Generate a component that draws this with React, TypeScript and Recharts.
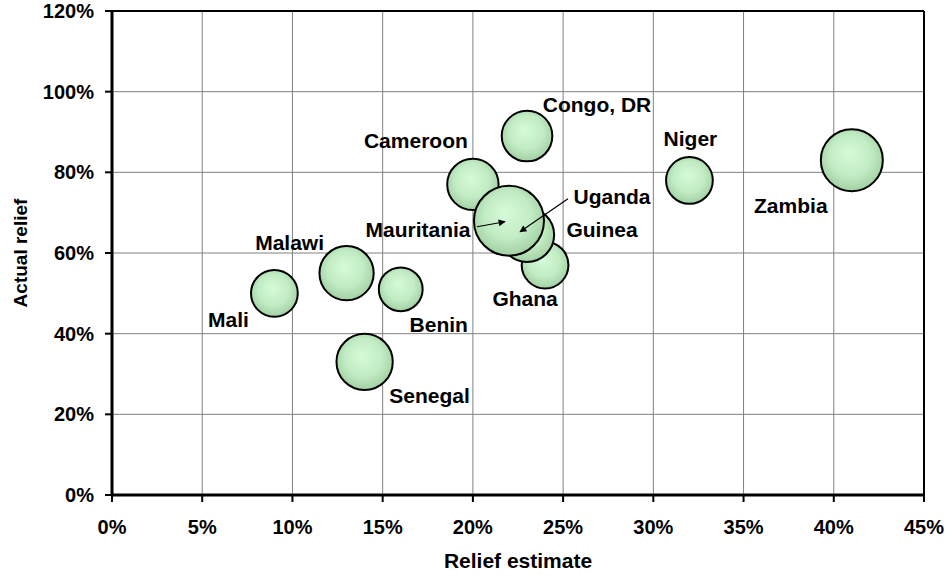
import React from 'react';
import { ScatterChart, Scatter, XAxis, YAxis, ZAxis, CartesianGrid, ReferenceLine, Label } from 'recharts';

// Data (values in percent)
const countries = ['Mali', 'Malawi', 'Benin', 'Senegal', 'Cameroon', 'Congo, DR', 'Ghana', 'Guinea', 'Uganda', 'Mauritania', 'Niger', 'Zambia'];
const reliefEstimate = [9, 13, 16, 14, 20, 23, 24, 23, 22.5, 22, 32, 41];
const actualRelief = [50, 55, 51, 33, 77, 89, 57, 64.5, 65, 68, 78, 83];
const bubbleSize = [58, 78, 51, 84, 70, 68, 58, 78, 32, 130, 58, 102];

const xTicks = [0, 5, 10, 15, 20, 25, 30, 35, 40, 45];
const yTicks = [0, 20, 40, 60, 80, 100, 120];

const data = countries.map((name, i) => ({
  name,
  x: reliefEstimate[i],
  y: actualRelief[i],
  z: bubbleSize[i],
}));

// Label placement (pixel offsets from bubble centre)
const labelLayout: Record<string, { dx: number; dy: number; arrow?: [number, number, number, number] }> = {
  'Mali': { dx: -46, dy: 26 },
  'Malawi': { dx: -57, dy: -31 },
  'Benin': { dx: 38, dy: 35 },
  'Senegal': { dx: 65, dy: 34 },
  'Cameroon': { dx: -57, dy: -44 },
  'Congo, DR': { dx: 70, dy: -32 },
  'Ghana': { dx: -20, dy: 33 },
  'Guinea': { dx: 75, dy: -5 },
  'Uganda': { dx: 94, dy: -36, arrow: [50, -34, 2, -1] },
  'Mauritania': { dx: -91, dy: 9, arrow: [-32, 6, -4, 1] },
  'Niger': { dx: 1, dy: -42 },
  'Zambia': { dx: -61, dy: 45 },
};

const FONT = '"Liberation Sans", Arial, Helvetica, sans-serif';

const Bubble = (props: any) => {
  const { cx, cy, width, size } = props;
  const r = width ? width / 2 : Math.sqrt((size || 0) / Math.PI);
  return <circle cx={cx} cy={cy} r={r} fill="url(#bubbleGrad)" stroke="#000" strokeWidth={2} />;
};

const BubbleLabel = (props: any) => {
  const { cx, cy, payload } = props;
  const name = payload?.name;
  const l = labelLayout[name] || { dx: 0, dy: 0 };
  return (
    <g>
      {l.arrow && (
        <line
          x1={cx + l.arrow[0]}
          y1={cy + l.arrow[1]}
          x2={cx + l.arrow[2]}
          y2={cy + l.arrow[3]}
          stroke="#000"
          strokeWidth={1.2}
          markerEnd="url(#arrowHead)"
        />
      )}
      <text
        x={cx + l.dx}
        y={cy + l.dy}
        dy="0.36em"
        textAnchor="middle"
        fontFamily={FONT}
        fontWeight="bold"
        fontSize={21}
        fill="#000"
      >
        {name}
      </text>
    </g>
  );
};

const tickStyle = { fontFamily: FONT, fontWeight: 'bold', fontSize: 20, fill: '#000' } as any;

export default function App() {
  return (
    <div style={{ position: 'absolute', left: 0, top: 0, width: 948, height: 576, background: '#fff' }}>
      <ScatterChart width={948} height={576} margin={{ top: 11, right: 24, left: 0, bottom: 0 }}>
        <defs>
          <radialGradient id="bubbleGrad" cx="50%" cy="45%" r="55%" fx="45%" fy="38%">
            <stop offset="0%" stopColor="#d4fbd8" />
            <stop offset="60%" stopColor="#c2ecc4" />
            <stop offset="100%" stopColor="#a2d0a2" />
          </radialGradient>
          <marker id="arrowHead" viewBox="0 0 10 10" refX="9" refY="5" markerWidth="9" markerHeight="7" markerUnits="userSpaceOnUse" orient="auto">
            <path d="M0,0 L10,5 L0,10 z" fill="#000" />
          </marker>
        </defs>
        <CartesianGrid stroke="#808080" strokeWidth={1} />
        <XAxis
          type="number"
          dataKey="x"
          domain={[0, 45]}
          ticks={xTicks}
          interval={0}
          tickFormatter={(v: number) => `${v}%`}
          height={81}
          tick={tickStyle}
          tickSize={7}
          tickMargin={18}
          axisLine={{ stroke: '#000', strokeWidth: 3 }}
          tickLine={{ stroke: '#000', strokeWidth: 2 }}
        >
          <Label
            content={(p: any) => {
              const vb = p.viewBox || {};
              return (
                <text x={vb.x + vb.width / 2} y={568} textAnchor="middle" fontFamily={FONT} fontWeight="bold" fontSize={21} fill="#000">
                  Relief estimate
                </text>
              );
            }}
          />
        </XAxis>
        <YAxis
          type="number"
          dataKey="y"
          domain={[0, 120]}
          ticks={yTicks}
          interval={0}
          tickFormatter={(v: number) => `${v}%`}
          width={112}
          tick={tickStyle}
          tickSize={7}
          tickMargin={11}
          axisLine={{ stroke: '#000', strokeWidth: 3 }}
          tickLine={{ stroke: '#000', strokeWidth: 2 }}
        >
          <Label
            content={(p: any) => {
              const vb = p.viewBox || {};
              const cy = vb.y + vb.height / 2;
              return (
                <text
                  x={20}
                  y={cy}
                  dy="0.36em"
                  textAnchor="middle"
                  transform={`rotate(-90 20 ${cy})`}
                  fontFamily={FONT}
                  fontWeight="bold"
                  fontSize={19}
                  fill="#000"
                >
                  Actual relief
                </text>
              );
            }}
          />
        </YAxis>
        <ZAxis type="number" dataKey="z" domain={[0, 130]} range={[0, Math.PI * 35 * 35]} />
        <ReferenceLine y={120} stroke="#000" strokeWidth={2} />
        <ReferenceLine x={45} stroke="#000" strokeWidth={2} />
        <Scatter data={data} shape={<Bubble />} isAnimationActive={false} />
        <Scatter data={data} shape={<BubbleLabel />} isAnimationActive={false} />
      </ScatterChart>
    </div>
  );
}
